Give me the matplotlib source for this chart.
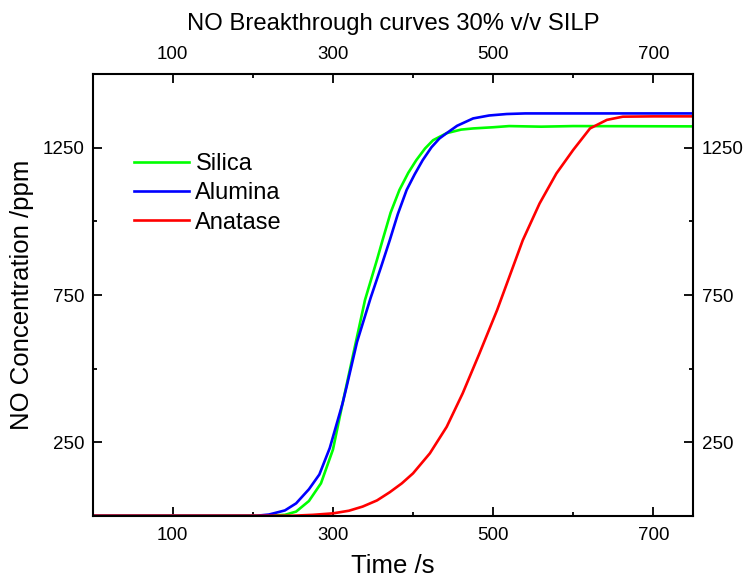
import matplotlib
matplotlib.use('Agg')
import matplotlib.pyplot as plt
from matplotlib.ticker import MultipleLocator

plt.rcParams['font.family'] = ['Liberation Sans', 'DejaVu Sans']

silica_t = [0, 220, 240, 254, 270, 285, 300, 312, 325, 340, 355, 362, 372, 383, 394, 404, 415, 425, 442, 460, 475, 500, 520, 560, 600, 750]
silica_c = [0, 0, 3, 14, 50, 110, 225, 382, 545, 733, 870, 937, 1030, 1107, 1165, 1208, 1248, 1276, 1300, 1312, 1316, 1320, 1324, 1322, 1324, 1323]

alumina_t = [0, 205, 220, 240, 254, 270, 283, 296, 312, 317, 330, 347, 360, 371, 381, 392, 402, 412, 423, 433, 442, 455, 475, 495, 517, 540, 750]
alumina_c = [0, 0, 4, 18, 42, 90, 140, 230, 382, 438, 590, 740, 845, 937, 1025, 1107, 1160, 1208, 1252, 1282, 1300, 1325, 1350, 1360, 1365, 1367, 1367]

anatase_t = [0, 250, 275, 300, 320, 337, 355, 371, 386, 400, 421, 442, 462, 483, 505, 520, 537, 558, 579, 600, 621, 642, 662, 700, 750]
anatase_c = [0, 0, 3, 8, 17, 31, 52, 80, 110, 144, 212, 302, 416, 552, 699, 810, 936, 1061, 1163, 1243, 1316, 1345, 1356, 1357, 1357]

fig = plt.figure(figsize=(7.46, 5.79), dpi=100)
ax = fig.add_axes([0.1243, 0.1093, 0.8051, 0.7624])

ax.plot(silica_t, silica_c, color='#00ff00', lw=1.9, label='Silica')
ax.plot(alumina_t, alumina_c, color='#0000ff', lw=1.9, label='Alumina')
ax.plot(anatase_t, anatase_c, color='#ff0000', lw=1.9, label='Anatase')

ax.set_xlim(0, 750)
ax.set_ylim(0, 1500)
ax.xaxis.set_major_locator(MultipleLocator(200, offset=100))
ax.xaxis.set_minor_locator(MultipleLocator(100))
ax.yaxis.set_major_locator(MultipleLocator(500, offset=250))
ax.yaxis.set_minor_locator(MultipleLocator(250))

ax.tick_params(which='both', direction='in', top=True, right=True,
               labeltop=True, labelright=True, labelsize=13.5, width=1.3)
ax.tick_params(which='major', length=6.5, pad=6)
ax.tick_params(axis='x', which='major', pad=8)
ax.tick_params(which='minor', length=3)
for s in ax.spines.values():
    s.set_linewidth(1.5)

ax.set_xlabel('Time /s', fontsize=18.5, labelpad=7)
ax.set_ylabel('NO Concentration /ppm', fontsize=18.5, labelpad=6)
ax.set_title('NO Breakthrough curves 30% v/v SILP', fontsize=17.2, pad=12)

ax.legend(loc='upper left', bbox_to_anchor=(0.033, 0.869), frameon=False,
          fontsize=17, handlelength=2.33, handletextpad=0.28, labelspacing=0.3)

fig.savefig('out.png', dpi=100)
